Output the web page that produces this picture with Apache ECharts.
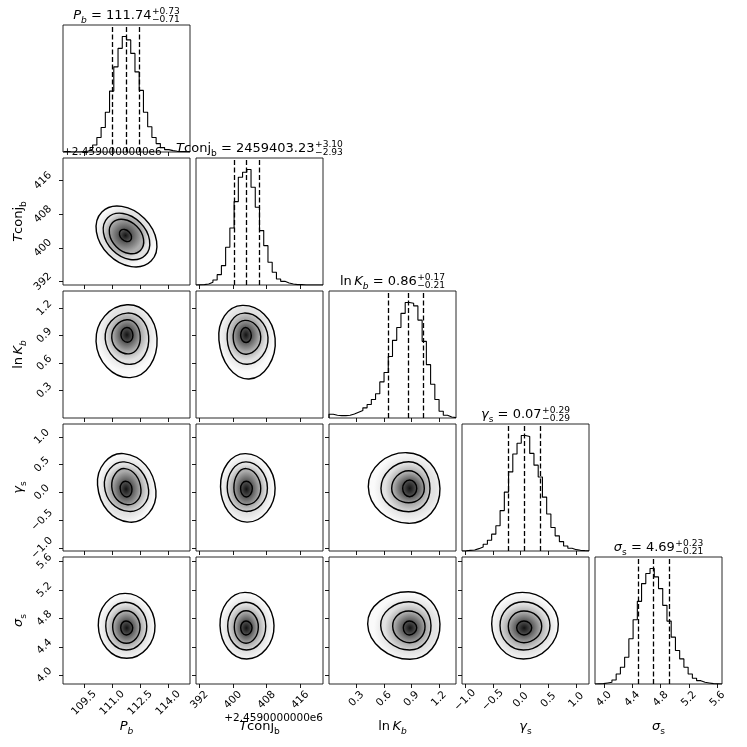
<!DOCTYPE html>
<html><head><meta charset="utf-8">
<script src="https://cdn.jsdelivr.net/npm/echarts@6/dist/echarts.min.js"></script>
<style>html,body{margin:0;padding:0;background:#fff;}#c{width:747px;height:747px;}</style>
</head><body><div id="c"></div>
<script>
// ---------- data ----------
const axisMin = [108.375, 391.2, 0.0, -1.055, 3.875];
const axisMax = [115.16, 421.4, 1.386, 1.23, 5.665];
const tickValues = [[109.5,111.0,112.5,114.0],[392,400,408,416],[0.3,0.6,0.9,1.2],[-1.0,-0.5,0.0,0.5,1.0],[4.0,4.4,4.8,5.2,5.6]];
const tickLabels = [['109.5','111.0','112.5','114.0'],['392','400','408','416'],['0.3','0.6','0.9','1.2'],['\u22121.0','\u22120.5','0.0','0.5','1.0'],['4.0','4.4','4.8','5.2','5.6']];
const offsetText = '+2.4590000000e6';

const histPb    = [0,0,0,0,1,3,8,21,43,73,118,181,253,308,343,333,293,238,183,118,75,43,25,13,7,4,2,1,1,0];
const histTconj = [0.5,1,3,8,15,31,58,113,171,250,323,338,346,293,233,163,118,68,38,18,11,6,3,1,1,0,0,0,0,0];
const histLnK   = [11,8,7,7,8,12,17,22,30,40,55,72,107,135,182,230,268,310,342,340,332,290,227,158,100,55,20,8,3,1];
const histGamma = [0.5,2,3,7,12,20,32,50,75,120,175,235,288,320,343,340,290,255,220,160,110,70,45,28,15,8,4,2,1,0.5];
const histSigma = [0.5,1,3,5,12,30,50,80,135,192,247,300,330,345,320,285,235,188,140,100,75,50,30,17,10,5,3,1,0.5,0];

const quantPb    = [111.03, 111.74, 112.47];
const quantTconj = [400.30, 403.23, 406.33];
const quantLnK   = [0.65, 0.86, 1.03];
const quantGamma = [-0.22, 0.07, 0.36];
const quantSigma = [4.48, 4.69, 4.92];

const titleValues = [['111.74','+0.73','\u22120.71'],['2459403.23','+3.10','\u22122.93'],['0.86','+0.17','\u22120.21'],['0.07','+0.29','\u22120.29'],['4.69','+0.23','\u22120.21']];

// contours (outer -> inner); each ring is 4 points
// (extreme points, or axis end points for the tilted Pb-Tconj ellipses)
const contTconjPb = [
 [[110.453,408.584],[112.729,407.015],[113.081,396.884],[110.806,398.453]],
 [[110.763,407.205],[112.504,406.016],[112.771,398.263],[111.030,399.452]],
 [[111.025,406.039],[112.312,405.160],[112.510,399.428],[111.222,400.308]],
 [[111.452,404.137],[111.906,403.828],[111.975,401.806],[111.521,402.116]]];
const contLnKPb = [
 [[110.14,0.835],[111.79,1.236],[113.40,0.871],[111.97,0.441]],
 [[110.63,0.862],[111.79,1.145],[112.95,0.895],[112.01,0.586]],
 [[110.98,0.873],[111.79,1.072],[112.50,0.895],[111.90,0.700]],
 [[111.47,0.906],[111.79,0.988],[112.11,0.906],[111.82,0.827]]];
const contLnKTconj = [
 [[396.65,0.85],[402.21,1.229],[410.01,0.871],[403.80,0.426]],
 [[398.62,0.86],[402.6,1.145],[408.32,0.88],[403.40,0.586]],
 [[400.05,0.87],[402.8,1.065],[406.59,0.89],[403.2,0.696]],
 [[401.81,0.90],[402.99,0.988],[404.35,0.90],[403.1,0.824]]];
const contGammaPb = [
 [[110.22,0.13],[111.61,0.697],[113.34,0.03],[111.92,-0.535]],
 [[110.59,0.11],[111.65,0.548],[112.95,0.04],[111.88,-0.343]],
 [[110.98,0.10],[111.68,0.428],[112.54,0.05],[111.82,-0.222]],
 [[111.43,0.07],[111.72,0.199],[112.06,0.06],[111.78,-0.083]]];
const contGammaTconj = [
 [[397.03,0.10],[403.0,0.697],[410.01,0.08],[403.3,-0.535]],
 [[398.62,0.09],[403.1,0.548],[408.18,0.08],[403.2,-0.343]],
 [[400.21,0.08],[403.1,0.428],[406.59,0.07],[403.2,-0.222]],
 [[401.81,0.07],[403.16,0.199],[404.59,0.07],[403.16,-0.083]]];
const contGammaLnK = [
 [[0.429,0.10],[0.848,0.714],[1.211,0.07],[0.865,-0.557]],
 [[0.567,0.07],[0.87,0.552],[1.102,0.07],[0.87,-0.348]],
 [[0.684,0.07],[0.87,0.390],[1.040,0.07],[0.87,-0.186]],
 [[0.804,0.07],[0.88,0.222],[0.957,0.07],[0.88,-0.078]]];
const contSigmaPb = [
 [[110.26,4.70],[111.69,5.153],[113.29,4.70],[111.78,4.237]],
 [[110.66,4.69],[111.72,5.027],[112.85,4.69],[111.76,4.354]],
 [[111.03,4.68],[111.74,4.908],[112.49,4.68],[111.76,4.449]],
 [[111.46,4.668],[111.74,4.763],[112.10,4.668],[111.76,4.566]]];
const contSigmaTconj = [
 [[396.91,4.70],[402.85,5.167],[409.75,4.70],[403.26,4.227]],
 [[398.74,4.69],[403.1,5.027],[407.78,4.69],[403.2,4.354]],
 [[400.31,4.68],[403.1,4.908],[406.02,4.68],[403.1,4.449]],
 [[401.83,4.668],[403.09,4.763],[404.52,4.668],[403.09,4.566]]];
const contSigmaLnK = [
 [[0.422,4.72],[0.865,5.176],[1.211,4.72],[0.884,4.223]],
 [[0.564,4.70],[0.87,5.035],[1.113,4.70],[0.88,4.354]],
 [[0.695,4.69],[0.87,4.904],[1.048,4.69],[0.88,4.457]],
 [[0.811,4.668],[0.876,4.763],[0.957,4.668],[0.876,4.566]]];
const contSigmaGamma = [
 [[-0.521,4.72],[0.03,5.167],[0.678,4.72],[0.05,4.227]],
 [[-0.371,4.70],[0.05,5.035],[0.528,4.70],[0.05,4.354]],
 [[-0.222,4.69],[0.06,4.904],[0.379,4.69],[0.06,4.457]],
 [[-0.071,4.668],[0.06,4.763],[0.199,4.668],[0.06,4.566]]];

// ---------- assembly ----------
const hists = [histPb, histTconj, histLnK, histGamma, histSigma];
const quants = [quantPb, quantTconj, quantLnK, quantGamma, quantSigma];
const conts = {'1_0':contTconjPb,'2_0':contLnKPb,'2_1':contLnKTconj,'3_0':contGammaPb,'3_1':contGammaTconj,'3_2':contGammaLnK,'4_0':contSigmaPb,'4_1':contSigmaTconj,'4_2':contSigmaLnK,'4_3':contSigmaGamma};

const FONT = '"DejaVu Sans"';
const L0 = 63, T0 = 25, STEP = 133, SIZE = 127;
const xMargins = [19, 16, 15, 16, 15];
const yMargins = [0, 20, 18.5, 21, 18.5];
const grayLevels = [250, 226, 172, 84];
const grayCenter = 18;
const gray = v => 'rgb(' + v + ',' + v + ',' + v + ')';

function fmtFor(i) {
  return function (v) {
    const tv = tickValues[i];
    for (let k = 0; k < tv.length; k++) if (Math.abs(tv[k] - v) < 1e-6) return tickLabels[i][k];
    return '';
  };
}

const grids = [], xAxes = [], yAxes = [], series = [];
let gi = 0;
for (let r = 0; r < 5; r++) {
  for (let c = 0; c <= r; c++) {
    grids.push({left: L0 + STEP * c, top: T0 + STEP * r, width: SIZE, height: SIZE, show: true,
      borderColor: '#111', borderWidth: 0.9, backgroundColor: 'transparent'});
    xAxes.push({type: 'value', gridIndex: gi, min: axisMin[c], max: axisMax[c], position: 'bottom',
      axisLine: {show: false, onZero: false}, splitLine: {show: false},
      axisTick: {show: true, inside: false, length: 4, customValues: tickValues[c], lineStyle: {color: '#000', width: 0.9}},
      axisLabel: {show: r === 4, customValues: tickValues[c], rotate: 45, align: 'center', verticalAlign: 'middle',
        margin: xMargins[c], formatter: fmtFor(c), fontFamily: FONT, fontSize: 10.5, color: '#000'}});
    if (r === c) {
      const h = hists[c];
      const n = h.length, w = (axisMax[c] - axisMin[c]) / n;
      const pts = [[axisMin[c], 0]];
      for (let k = 0; k < n; k++) pts.push([axisMin[c] + k * w, h[k]]);
      pts.push([axisMax[c], h[n - 1]]);
      pts.push([axisMax[c], 0]);
      yAxes.push({type: 'value', gridIndex: gi, min: 0, max: Math.max.apply(null, h) * 1.1, show: false,
        axisLine: {onZero: false}, splitLine: {show: false}});
      series.push({type: 'line', xAxisIndex: gi, yAxisIndex: gi, data: pts, step: 'end', symbol: 'none',
        lineStyle: {color: '#000', width: 1.1}, silent: true, animation: false,
        markLine: {silent: true, symbol: 'none', animation: false, label: {show: false},
          lineStyle: {color: '#000', width: 1.3, type: [5, 2.5]},
          data: quants[c].map(v => ({xAxis: v}))}});
    } else {
      yAxes.push({type: 'value', gridIndex: gi, min: axisMin[r], max: axisMax[r], position: 'left',
        axisLine: {show: false, onZero: false}, splitLine: {show: false},
        axisTick: {show: true, inside: false, length: 4, customValues: tickValues[r], lineStyle: {color: '#000', width: 0.9}},
        axisLabel: {show: c === 0, customValues: tickValues[r], rotate: 45, align: 'center', verticalAlign: 'middle',
          margin: yMargins[r], formatter: fmtFor(r), fontFamily: FONT, fontSize: 10.5, color: '#000'}});
      const cs = conts[r + '_' + c];
      series.push({type: 'custom', coordinateSystem: 'cartesian2d', xAxisIndex: gi, yAxisIndex: gi,
        silent: true, animation: false,
        data: cs.map((ring, k) => [ring[1][0], ring[1][1], k]),
        renderItem: (function (cs) {
          return function (params, api) {
            const k = api.value(2);
            const toPx = ring => ring.map(p => api.coord(p));
            const bbox = px => {
              const xs = px.map(p => p[0]), ys = px.map(p => p[1]);
              const x0 = Math.min.apply(null, xs), x1 = Math.max.apply(null, xs);
              const y0 = Math.min.apply(null, ys), y1 = Math.max.apply(null, ys);
              return {cx: (x0 + x1) / 2, cy: (y0 + y1) / 2, hw: (x1 - x0) / 2, hh: (y1 - y0) / 2};
            };
            const px = toPx(cs[k]);
            const b = bbox(px);
            const inner = bbox(toPx(cs[cs.length - 1]));
            const local = px.map(p => [(p[0] - b.cx) / b.hw * 100, (p[1] - b.cy) / b.hh * 100]);
            const gx = ((inner.cx - b.cx) / b.hw * 100 + 100) / 200;
            const gy = ((inner.cy - b.cy) / b.hh * 100 + 100) / 200;
            let stops;
            if (k < cs.length - 1) {
              const nb = bbox(toPx(cs[k + 1]));
              const q = Math.min(0.95, (nb.hw / b.hw + nb.hh / b.hh) / 2);
              stops = [{offset: 0, color: gray(grayLevels[k + 1])}, {offset: q, color: gray(grayLevels[k + 1])}, {offset: 1, color: gray(grayLevels[k])}];
            } else {
              stops = [{offset: 0, color: gray(grayCenter)}, {offset: 1, color: gray(grayLevels[k])}];
            }
            return {type: 'group', children: [
              {type: 'polygon', x: b.cx, y: b.cy, scaleX: b.hw / 100, scaleY: b.hh / 100,
                shape: {points: local, smooth: 0.55},
                style: {fill: new echarts.graphic.RadialGradient(gx, gy, 0.5, stops), stroke: null}},
              {type: 'polygon', shape: {points: px, smooth: 0.55},
                style: {fill: null, stroke: '#000', lineWidth: 1.4}}
            ]};
          };
        })(cs)});
    }
    gi++;
  }
}

// ---------- text (titles, axis labels) ----------
const mctx = document.createElement('canvas').getContext('2d');
function fontStr(style, size) { return (style === 'i' ? 'italic ' : '') + size + 'px ' + FONT; }
function tw(t, f) { mctx.font = f; return mctx.measureText(t).width; }

function buildText(segs, size, stack) {
  const children = [];
  let x = 0;
  const ss = size * 0.7;
  segs.forEach(s => {
    const isSub = s[2] === 'sub';
    const fs = isSub ? ss : size;
    const f = fontStr(s[1], fs);
    if (s[3]) x += s[3];
    const base = isSub ? size * 0.22 : 0;
    children.push({type: 'text', x: x, y: base - 0.35 * fs, style: {text: s[0], font: f, fill: '#000', align: 'left', verticalAlign: 'middle'}});
    x += tw(s[0], f);
  });
  if (stack) {
    const f = fontStr('n', ss);
    x += 0.5;
    children.push({type: 'text', x: x, y: -size * 0.43 - 0.35 * ss, style: {text: stack[0], font: f, fill: '#000', align: 'left', verticalAlign: 'middle'}});
    children.push({type: 'text', x: x, y: size * 0.17 - 0.35 * ss, style: {text: stack[1], font: f, fill: '#000', align: 'left', verticalAlign: 'middle'}});
    x += Math.max(tw(stack[0], f), tw(stack[1], f));
  }
  return {children, width: x};
}

const symbolSegs = [
  [['P', 'i'], ['b', 'i', 'sub']],
  [['T', 'i'], ['conj', 'n'], ['b', 'n', 'sub']],
  [['ln', 'n'], ['K', 'i', null, 2.5], ['b', 'i', 'sub']],
  [['\u03b3', 'i'], ['s', 'n', 'sub']],
  [['\u03c3', 'i'], ['s', 'n', 'sub']]
];

const graphics = [];
function place(built, cx, baseY, rotation) {
  const kids = built.children.map(ch => Object.assign({}, ch, {x: ch.x - built.width / 2}));
  graphics.push({type: 'group', x: cx, y: baseY, rotation: rotation || 0, children: kids, z: 100});
}
for (let i = 0; i < 5; i++) {
  const cx = L0 + STEP * i + SIZE / 2;
  const segs = symbolSegs[i].concat([[' = ' + titleValues[i][0], 'n']]);
  place(buildText(segs, 13, [titleValues[i][1], titleValues[i][2]]), cx, T0 + STEP * i - 4.5);
  place(buildText(symbolSegs[i], 13, null), cx, 731.5);
  if (i > 0) {
    const cy = T0 + STEP * i + SIZE / 2;
    place(buildText(symbolSegs[i], 13, null), 23.5, cy, Math.PI / 2);
  }
}
graphics.push({type: 'text', x: L0 + STEP + SIZE, y: 718.5, z: 100,
  style: {text: offsetText, font: '10.5px ' + FONT, fill: '#000', align: 'right', verticalAlign: 'middle'}});
graphics.push({type: 'text', x: L0, y: T0 + STEP - 5.5, z: 100,
  style: {text: offsetText, font: '10.5px ' + FONT, fill: '#000', align: 'left', verticalAlign: 'middle'}});

const chart = echarts.init(document.getElementById('c'), null, {renderer: 'canvas'});
chart.setOption({
  animation: false,
  backgroundColor: '#fff',
  grid: grids, xAxis: xAxes, yAxis: yAxes, series: series,
  graphic: {elements: graphics}
});
</script></body></html>
